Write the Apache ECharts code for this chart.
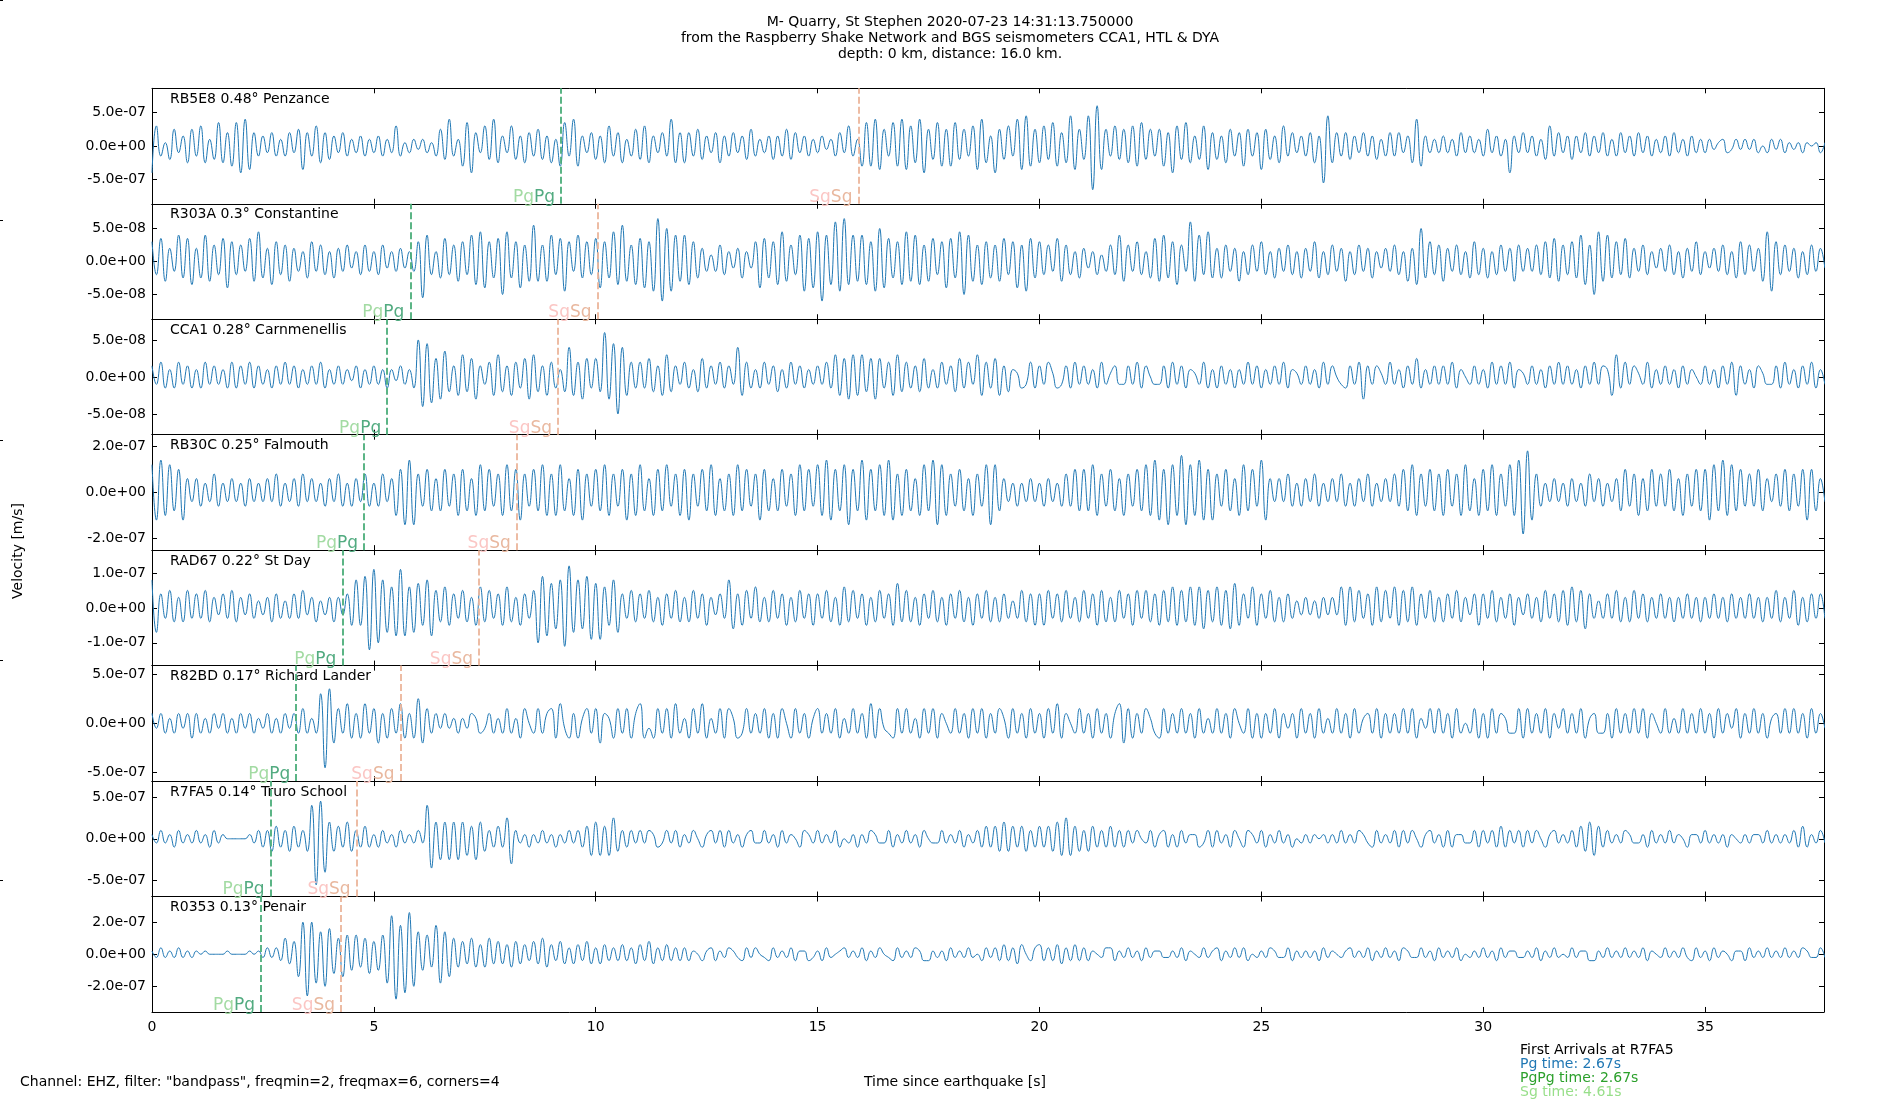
<!DOCTYPE html>
<html><head><meta charset="utf-8">
<script src="https://cdn.jsdelivr.net/npm/echarts@6/dist/echarts.min.js"></script>
<style>html,body{margin:0;padding:0;background:#fff}#c{width:1900px;height:1100px}</style>
</head><body><div id="c"></div>
<script>
// ---------------- data ----------------
const stations = ['RB5E8 0.48° Penzance','R303A 0.3° Constantine','CCA1 0.28° Carnmenellis','RB30C 0.25° Falmouth','RAD67 0.22° St Day','R82BD 0.17° Richard Lander','R7FA5 0.14° Truro School','R0353 0.13° Penair'];
const pgTimes = [9.22, 5.82, 5.30, 4.78, 4.29, 3.25, 2.67, 2.46];
const sgTimes = [15.92, 10.04, 9.15, 8.22, 7.37, 5.60, 4.61, 4.26];
const yTickSteps = [5e-7, 5e-8, 5e-8, 2e-7, 1e-7, 5e-7, 5e-7, 2e-7];
const yLimits = [8.6e-7, 8.75e-8, 7.8e-8, 2.5e-7, 1.65e-7, 5.85e-7, 6.9e-7, 3.6e-7];
const ampUnits = [5e-8, 5e-9, 5e-9, 2e-8, 1e-8, 5e-8, 5e-8, 2e-8]; // value of 1 in the wave arrays
const sampleStep = 0.1; // s
const xTicks = [0, 5, 10, 15, 20, 25, 30, 35];
const xMax = 37.68;
const firstArrivals = ['First Arrivals at R7FA5', 'Pg time: 2.67s', 'PgPg time: 2.67s', 'Sg time: 4.61s'];
const footerLeft = 'Channel: EHZ, filter: "bandpass", freqmin=2, freqmax=6, corners=4';
const xName = 'Time since earthquake [s]';
const yName = 'Velocity [m/s]';
const mainTitle = 'M- Quarry, St Stephen 2020-07-23 14:31:13.750000\nfrom the Raspberry Shake Network and BGS seismometers CCA1, HTL & DYA\ndepth: 0 km, distance: 16.0 km.';

const w_RB5E8 = [
-8,6,-3,1,-4,5,-2,3,-5,5, -3,6,-5,2,-4,7,-5,4,-6,7, -8,8,-7,4,-3,3,-2,4,-3,2, -3,4,-2,5,-7,4,-3,6,-5,4,
-4,3,-2,4,-3,2,-2,3,-3,2, -2,3,-3,2,-2,6,-3,1,-2,2, -1,2,-2,1,-3,5,-4,8,-3,2, -6,7,-8,4,-2,6,-4,8,-5,3,
-2,6,-4,3,-5,4,-3,5,-4,3, -5,2,-6,7,-3,8,-6,3,-2,4, -4,3,-5,6,-3,4,-5,2,-3,5, -4,6,-5,3,-2,4,-3,8,-5,4,
-5,4,-3,5,-4,3,-2,4,-5,3, -3,4,-2,3,-4,5,-3,2,-2,3, -4,3,-3,5,-4,4,-2,3,-3,2, -2,3,-1,2,-3,4,-2,6,-3,2,
-6,7,-6,8,-7,5,-3,7,-6,8, -7,6,-5,8,-8,5,-4,7,-6,5, -6,7,-4,5,-3,6,-7,8,-5,3, -8,5,-4,6,-3,8,-7,9,-6,5,
-5,6,-4,7,-6,4,-5,9,-7,5, -4,9,-13,12,-7,5,-3,6,-4,5, -5,6,-6,7,-4,5,-3,5,-6,4, -8,6,-4,7,-5,3,-4,6,-7,4,
-4,3,-5,5,-3,4,-6,5,-3,4, -7,5,-4,3,-5,6,-3,4,-2,3, -3,4,-5,3,-11,9,-5,4,-3,4, -4,3,-2,4,-3,3,-4,2,-3,4,
-3,4,-2,3,-5,8,-6,3,-2,2, -2,3,-2,2,-3,4,-2,3,-2,2, -3,5,-2,3,-3,2,-8,3,-2,4, -2,3,-3,2,-4,6,-3,4,-2,3,
-4,3,-2,4,-3,3,-2,4,-3,2, -3,4,-2,3,-3,4,-2,3,-3,2, -2,3,-3,4,-2,2,-3,3,-2,2, -2,2,-1,1,2,-2,-1,2,-1,2,
-1,2,-2,0,-2,2,-1,2,-2,1, -1,1,-2,1,0,1,-2,1];
const w_R303A = [
6,-4,7,-6,4,-3,8,-5,7,-7, 4,-5,8,-6,5,-4,7,-8,6,-4, 5,-3,7,-6,9,-5,4,-7,6,-4, 5,-6,4,-3,3,-5,6,-3,5,-4,
3,-5,4,-3,5,-2,3,-4,5,-3, 3,-4,5,-2,3,-3,4,-2,3,-3, 6,-11,8,-4,3,-5,7,-4,5,-6, 6,-4,8,-7,9,-8,6,-5,7,-10,
9,-5,6,-8,5,-6,11,-6,5,-6, 8,-4,7,-9,6,-3,8,-5,6,-4, 7,-8,6,-5,9,-7,11,-6,5,-7, 7,-8,6,-9,13,-12,10,-9,8,-6,
8,-7,6,-5,4,-3,2,-3,5,-4, 3,-2,4,-5,3,-2,6,-8,7,-5, 6,-7,9,-6,5,-4,8,-9,7,-8, 9,-12,8,-7,12,-9,13,-7,8,-6,
8,-7,6,-9,10,-8,7,-5,6,-7, 9,-6,8,-7,5,-6,7,-4,6,-8, 7,-5,9,-10,8,-6,5,-7,6,-5, 5,-6,7,-4,6,-8,5,-9,7,-5,
6,-4,5,-3,7,-6,5,-4,3,-5, 4,-2,3,-4,2,-3,5,-4,8,-6, 5,-3,6,-4,3,-5,7,-6,8,-5, 6,-7,5,-3,12,-6,8,-4,9,-5,
4,-5,5,-3,4,-6,3,-4,5,-3, 6,-4,3,-5,4,-3,5,-4,3,-5, 4,-3,6,-5,3,-4,5,-3,4,-6, 3,-4,5,-3,4,-5,3,-2,4,-3,
5,-4,3,-6,4,-7,10,-5,6,-4, 5,-6,4,-3,5,-4,3,-5,6,-4, 4,-5,3,-4,5,-3,4,-6,5,-3, 4,-3,5,-4,6,-5,7,-6,5,-4,
6,-5,8,-7,5,-10,9,-6,8,-5, 6,-4,7,-5,4,-3,5,-4,3,-2, 4,-3,5,-4,3,-5,4,-3,6,-4, 3,-2,4,-3,5,-4,3,-5,6,-4,
5,-3,4,-6,9,-9,6,-4,5,-3, 4,-5,3,-4,5,-3,4,-2];
const w_CCA1 = [
3,-2,4,-3,2,-3,4,-2,3,-3, 2,-3,4,-2,3,-2,2,-3,4,-3, 3,-2,4,-3,3,-2,2,-3,3,-2, 4,-2,3,-3,2,-2,3,-2,4,-3,
2,-2,3,-2,2,-1,3,-3,2,-2, 3,-2,2,-3,2,-1,3,-2,2,-3, 10,-8,9,-7,5,-6,7,-4,3,-5, 6,-4,5,-6,3,-2,4,-5,6,-4,
3,-5,4,-3,5,-6,6,-4,3,-5, 4,-3,2,-4,8,-5,4,-6,5,-3, 5,-4,12,-6,9,-10,8,-5,4,-3, 4,-3,5,-4,3,-5,6,-4,3,-2,
4,-3,2,-4,5,-3,3,-2,4,-3, 3,-2,8,-5,4,-3,2,-3,4,-2, 3,-4,2,-3,4,-2,3,-3,2,-2, 3,-2,4,-3,6,-5,5,-6,6,-5,
6,-4,5,-6,5,-3,4,-5,6,-4, 4,-3,3,-4,5,-3,2,-3,4,-2, 3,-4,5,-3,4,-2,6,-5,4,-3, 5,-5,3,-4,2,1,-3,-2,4,-3,
3,-2,4,1,-3,-2,3,-3,4,-2, 3,-2,2,-3,4,-2,1,3,-2,-2, 3,-2,4,-3,3,0,-2,-2,3,-3, 4,-2,3,-3,2,1,-2,4,-3,2,
-3,3,-2,2,-3,2,-2,4,-2,3, -3,2,-2,3,-2,4,-3,2,1,-2, 3,-2,2,-3,4,-2,3,0,-2,-3, 3,-2,4,-6,3,-2,3,1,-2,4,
-2,2,-3,3,-2,5,-3,2,-2,3, -2,3,-2,4,-3,2,0,-2,3,-2, 2,-3,4,-2,3,-2,4,-3,2,1, -2,3,-2,2,-3,3,-2,4,-2,3,
-2,2,-3,3,-2,4,-2,3,2,-5, 6,-3,4,-2,3,1,-2,4,-3,2, -2,3,-2,2,-3,3,-2,2,0,-2, 3,-2,2,-3,3,-2,4,-5,3,-2,
2,-3,3,1,-2,-2,3,-3,4,-2, 2,-3,3,-2,4,-3,2,-2];
const w_RB30C = [
6,-6,7,-5,6,-4,5,-6,3,-2, 3,-3,2,-2,4,-3,2,-2,3,-2, 2,-3,3,-2,2,-2,3,-2,4,-3, 2,-2,3,-3,4,-2,3,-2,2,-3,
3,-2,4,-3,2,-3,3,-2,4,-3, 2,-3,4,-2,3,-5,5,-7,7,-7, 4,-3,5,-4,3,-4,5,-3,4,-5, 5,-4,3,-5,6,-4,5,-3,4,-5,
6,-4,5,-6,4,-3,5,-4,6,-5, 4,-5,6,-4,3,-5,5,-6,4,-3, 5,-4,6,-5,4,-3,5,-6,4,-5, 6,-4,3,-5,5,-4,6,-3,4,-5,
5,-6,4,-3,5,-4,6,-5,3,-4, 4,-5,6,-4,5,-3,4,-6,5,-4, 3,-4,5,-3,4,-5,6,-4,5,-3, 6,-5,7,-6,5,-4,6,-7,5,-4,
7,-6,5,-4,6,-5,7,-6,4,-5, 5,-4,3,-5,6,-4,7,-7,6,-5, 4,-3,5,-4,3,-5,4,-3,6,-7, 6,-4,3,-2,2,-3,2,-2,3,-2,
2,-3,3,-2,2,-3,4,-3,5,-4, 5,-4,6,-5,4,-3,5,-4,3,-5, 4,-3,5,-4,6,-5,7,-6,5,-7, 6,-5,8,-7,6,-5,7,-6,5,-6,
4,-3,5,-4,3,-5,6,-4,5,-3, 7,-6,3,-2,3,-2,4,-3,2,-3, 3,-2,4,-3,2,-2,3,-2,4,-3, 2,-3,3,-2,4,-3,2,-2,3,-2,
4,-3,5,-4,6,-5,4,-3,5,-4, 4,-5,5,-3,4,-5,6,-4,3,-5, 5,-4,6,-5,4,-3,6,-5,7,-9, 9,-6,4,-3,2,-2,3,-2,2,-3,
3,-2,2,-3,4,-2,3,-3,2,-2, 3,-4,5,-3,4,-5,3,-4,5,-3, 4,-3,5,-4,3,-5,4,-3,5,-4, 5,-6,6,-4,7,-5,6,-4,5,-3,
4,-3,5,-4,3,-2,4,-3,5,-4, 4,-3,5,-6,5,-4,3,-2];
const w_RAD67 = [
8,-7,4,-3,5,-4,3,-4,5,-3, 4,-3,5,-4,3,-2,4,-3,5,-4, 3,-2,4,-3,2,-2,3,-4,4,-3, 2,-3,4,-3,5,-2,3,-4,2,-2,
3,-4,3,-2,4,-5,8,-5,9,-12, 11,-10,8,-7,6,-8,11,-8,6,-7, 7,-5,8,-8,5,-4,6,-5,4,-3, 5,-4,3,-5,6,-4,5,-3,4,-5,
6,-4,3,-5,4,-3,5,-10,9,-8, 7,-6,8,-11,12,-7,8,-6,9,-9, 7,-9,6,-5,8,-7,4,-3,5,-4, 4,-3,5,-4,3,-5,4,-3,5,-4,
3,-4,5,-3,4,-5,3,-2,4,-3, 8,-6,4,-5,5,-3,6,-4,3,-4, 5,-3,4,-5,3,-4,5,-3,4,-5, 4,-3,5,-4,3,-5,6,-4,5,-3,
4,-5,3,-4,5,-3,4,-5,7,-4, 5,-4,3,-5,4,-3,5,-4,3,-5, 4,-3,5,-4,3,-5,4,-3,5,-4, 3,-4,4,-3,2,-3,5,-4,4,-5,
4,-5,5,-3,4,-4,5,-3,3,-4, 5,-3,4,-5,5,-4,3,-4,5,-3, 4,-5,5,-3,5,-4,4,-5,5,-4, 6,-5,5,-4,6,-5,6,-6,5,-4,
6,-5,5,-6,7,-5,4,-3,6,-5, 4,-3,5,-4,3,-4,4,-3,2,-2, 3,-2,2,-3,3,-2,3,-2,6,-5, 6,-4,5,-3,4,-5,6,-4,5,-3,
6,-5,5,-4,6,-5,4,-3,5,-4, 3,-4,4,-3,5,-4,3,-2,4,-5, 4,-3,5,-4,3,-3,4,-5,3,-2, 4,-3,3,-4,5,-3,4,-4,5,-5,
6,-4,5,-6,4,-3,2,-3,4,-3, 5,-4,3,-4,5,-3,4,-4,3,-3, 4,-3,3,-4,3,-3,4,-3,3,-4, 3,-3,4,-3,3,-4,4,-3,3,-3,
4,-3,3,-4,3,-3,5,-4,3,-3, 5,-5,3,-4,4,-3,4,-3];
const w_R82BD = [
2,-1,2,-2,1,-2,2,-1,2,-3, 2,-2,1,-2,2,-1,2,-2,1,-2, 2,-1,2,-2,1,-1,2,-2,1,-2, 2,-1,2,-2,3,-2,1,-2,6,-9,
7,-4,3,-2,4,-3,2,-3,4,-2, 3,-4,2,-3,3,-2,4,-3,2,-3, 5,-4,3,-2,2,-1,2,-1,1,-2, 1,-1,2,1,-2,-1,2,-2,1,-2,
3,-2,1,-3,3,0,-2,3,-2,2, 3,-3,4,-1,-3,2,-3,1,3,-2, 3,-4,2,1,-3,3,-2,3,-3,2, 4,-3,-1,-3,3,-2,3,-3,4,-2,
1,-3,3,-2,4,-3,1,-2,3,-3, 3,1,-3,-2,3,-2,2,-2,3,-3, 2,-3,3,0,-3,3,-2,2,-3,1, 3,-2,2,-2,3,-3,1,-2,3,-2,
2,-3,4,-3,3,-1,-2,-3,3,-2, 3,-2,1,-3,3,-2,3,-3,2,0, -2,3,-2,2,-3,3,-2,3,-3,2, -2,3,1,-3,3,-2,2,-3,3,-2,
2,-3,3,-2,4,-3,2,0,-2,3, -2,2,-3,3,-2,2,-3,2,4,-4, 3,-3,2,-2,3,1,-2,-3,3,-2, 2,-2,3,-2,2,-3,3,-2,1,-2,
3,-2,2,-3,3,0,-2,3,-3,2, -3,2,-2,3,-3,2,-1,2,-3,3, -2,2,-3,3,-2,1,-2,3,-2,2, -3,3,-2,1,2,-2,3,-3,2,-2,
2,-2,3,-2,3,-3,1,-1,3,-2, 3,-2,2,-3,3,-2,0,-2,3,-3, 2,-3,3,-2,2,1,-2,-2,3,-3, 3,-2,2,-2,3,-3,2,-1,3,-2,
2,-2,3,-3,1,2,-2,-2,2,-3, 3,-2,2,-2,3,-2,3,-3,2,0, -2,3,-2,1,-2,3,-2,2,-2,3, -2,2,-3,3,-2,2,-1,3,-3,2,
-2,3,-2,2,-3,1,2,-2,3,-2, 3,-2,2,-3,3,-2,2,-1];
const w_R7FA5 = [
1,-1,2,-1,1,-2,2,-1,1,-1, 2,-1,1,-2,2,-1,1,0,0,0, 0,0,1,-1,2,-2,2,-3,3,-2, 2,-3,3,-2,2,-3,8,-11,9,-8,
4,-3,3,-2,4,-3,2,-2,3,-2, 1,-2,2,-1,1,-2,2,-1,1,-1, 2,-1,8,-7,4,-5,4,-5,4,-5, 4,-4,3,-5,4,-3,2,-2,3,-2,
5,-6,2,-1,1,-2,1,-1,2,-1, 1,-2,1,-1,2,-1,2,-2,3,-4, 4,-4,3,-4,5,-3,2,-2,2,-1, 2,-1,2,1,-2,-1,2,-1,2,-2,
1,-1,2,0,-2,1,2,-1,2,-2, 2,-1,1,-2,1,2,-1,-1,2,-1, 1,-2,2,-1,1,0,-2,2,1,-1, 2,-1,1,-1,2,-2,0,-1,1,-2,
1,-1,2,1,-1,-1,2,-2,1,-1, 2,-1,1,-2,2,0,-1,-1,2,-1, 1,-1,2,-2,1,-1,2,-2,3,-2, 3,-3,4,-3,3,-2,3,-3,2,-2,
3,-2,3,-3,4,-4,5,-4,3,-3, 2,-3,3,-2,2,-2,3,-2,2,-2, 2,-1,2,0,-1,2,-2,1,2,-2, 1,-2,2,-1,1,1,-2,-1,2,-2,
2,-1,1,-2,2,0,-2,2,1,-1, 2,-2,1,-1,2,-1,1,-2,0,-1, 1,-1,1,0,1,-1,1,-1,2,-1, 1,-1,2,1,-1,-2,2,-1,1,-1,
2,-2,2,-1,2,0,-2,1,2,-1, 1,-2,2,-2,1,1,-1,-1,2,-2, 2,-1,2,-2,3,-2,2,-1,2,-2, 2,-1,2,0,-2,1,2,-1,1,-1,
2,-2,3,-3,4,-4,3,-2,2,-1, 1,-1,2,1,-1,-1,1,-2,2,-1, 1,-1,2,-1,1,0,-2,1,1,-1, 2,-1,1,-1,1,-2,1,0,-1,1,
-1,1,1,-1,2,-1,1,-1,1,-1, 2,-2,3,-2,1,-1,2,-1];
const w_R0353 = [
1,-1,2,-1,1,-1,2,-1,1,-1, 1,0,1,0,0,0,0,1,0,0, 0,0,1,0,1,-1,2,-1,2,-2, 5,-3,4,-7,10,-13,10,-9,7,-10,
8,-6,5,-7,6,-5,6,-4,5,-6, 4,-5,6,-9,12,-14,9,-12,13,-10, 7,-5,6,-4,9,-9,7,-7,5,-4, 4,-3,5,-4,3,-4,5,-3,4,-3,
3,-4,4,-3,3,-2,4,-3,5,-4, 3,-2,4,-3,2,-3,3,-2,4,-3, 2,-3,3,-2,2,-2,3,-2,2,-3, 3,-2,4,-3,2,-2,3,-2,2,-2,
2,-2,1,0,-2,1,2,-2,1,-1, 2,1,-1,-2,2,-1,2,0,-1,-2, 2,-1,1,-1,2,-2,1,1,-2,-1, 1,-2,2,-1,0,1,2,-1,1,-1,
2,-2,1,-1,2,0,-1,-2,2,-1, 1,-1,2,1,-2,-2,1,-1,1,-2, 2,-1,1,-1,2,-1,0,-2,2,-1, 2,-2,3,-2,2,-3,3,0,-2,2,
3,-2,2,-2,3,-3,2,-2,3,-2, 2,-2,1,0,-1,2,2,-2,1,-1, 2,-1,1,-2,2,-1,1,1,-1,-1, 1,-1,2,-2,1,0,-1,2,-1,1,
2,-2,1,-1,2,-1,2,-2,0,-1, 1,-1,2,1,-1,-1,2,-2,1,-1, 1,-1,1,-2,2,-1,1,0,-1,1, 2,-1,1,-1,2,-2,1,-1,2,-1,
1,-2,2,1,-1,-1,2,-1,1,-2, 2,-1,1,-1,2,-2,0,-1,1,-1, 2,-1,1,-2,2,-1,1,1,-1,-1, 1,-1,2,-2,1,-1,2,-1,0,-1,
2,-1,1,1,-2,-2,1,-1,2,-1, 1,-1,2,-1,1,-1,2,-2,1,0, -1,2,-1,1,-1,2,-1,-2,2,-1, 1,-2,2,-1,1,0,-2,1,1,-2,
2,-1,1,-1,2,-1,1,-1,2,-1, 1,-1,2,1,-1,-1,2,-1];
const waves = [w_RB5E8, w_R303A, w_CCA1, w_RB30C, w_RAD67, w_R82BD, w_R7FA5, w_R0353];

// ---------------- layout / style ----------------
const FONT = 'DejaVu Sans';
const PLOT_LEFT = 152, PLOT_RIGHT = 1824, PLOT_TOP = 88.3, PANEL_H = 115.46;
const WAVE_COLOR = '#1f77b4';
const PG_LINE = '#4aad79', SG_LINE = '#ecb59b';

function sci(v) {
  if (Math.abs(v) < 1e-20) return '0.0e+00';
  const s = v.toExponential(1);
  const parts = s.split('e');
  const e = parseInt(parts[1], 10);
  const sign = e < 0 ? '-' : '+';
  const d = Math.abs(e);
  return parts[0] + 'e' + sign + (d < 10 ? '0' : '') + d;
}

const grids = [], xAxes = [], yAxes = [], series = [], graphics = [];
const tickLine = { color: '#000', width: 1 };
for (let i = 0; i < 8; i++) {
  const top = PLOT_TOP + i * PANEL_H;
  grids.push({ left: PLOT_LEFT, top: top, width: PLOT_RIGHT - PLOT_LEFT, height: PANEL_H });
  const yt = [-yTickSteps[i], 0, yTickSteps[i]];
  const baseX = {
    gridIndex: i, type: 'value', min: 0, max: xMax,
    axisLine: { show: true, onZero: false, lineStyle: tickLine },
    axisTick: { show: true, inside: true, length: 5, customValues: xTicks, lineStyle: tickLine },
    splitLine: { show: false }
  };
  xAxes.push(Object.assign({}, baseX, { position: 'bottom',
    axisLabel: { show: i === 7, customValues: xTicks, color: '#000', fontSize: 14, fontFamily: FONT, margin: 8 } }));
  xAxes.push(Object.assign({}, baseX, { position: 'top', axisLabel: { show: false } }));
  const baseY = {
    gridIndex: i, type: 'value', min: -yLimits[i], max: yLimits[i],
    axisLine: { show: true, onZero: false, lineStyle: tickLine },
    axisTick: { show: true, inside: true, length: 5, customValues: yt, lineStyle: tickLine },
    splitLine: { show: false }
  };
  yAxes.push(Object.assign({}, baseY, { position: 'left',
    axisLabel: { show: true, customValues: yt, formatter: sci, color: '#000', fontSize: 14, fontFamily: FONT, margin: 6 } }));
  yAxes.push(Object.assign({}, baseY, { position: 'right', axisLabel: { show: false } }));

  const unit = ampUnits[i];
  const data = waves[i].map((v, k) => [k * sampleStep, v * unit]);
  series.push({
    type: 'line', xAxisIndex: 2 * i, yAxisIndex: 2 * i, data: data,
    symbol: 'none', showSymbol: false, smooth: 0.5, clip: true, animation: false,
    lineStyle: { color: WAVE_COLOR, width: 1 },
    markLine: {
      silent: true, symbol: ['none', 'none'], animation: false, label: { show: false },
      data: [
        { xAxis: pgTimes[i], lineStyle: { color: PG_LINE, type: [7, 3], width: 1.8 } },
        { xAxis: sgTimes[i], lineStyle: { color: SG_LINE, type: [7, 3], width: 1.8 } }
      ]
    },
    markPoint: {
      silent: true, symbol: 'circle', symbolSize: 0, animation: false,
      label: {
        show: true, position: [-6, 2], align: 'right', verticalAlign: 'bottom',
        rich: {
          a: { color: '#a3dba3', fontSize: 17, fontFamily: FONT },
          b: { color: '#52ab80', fontSize: 17, fontFamily: FONT },
          c: { color: '#fbc6c4', fontSize: 17, fontFamily: FONT },
          d: { color: '#e9b89f', fontSize: 17, fontFamily: FONT }
        }
      },
      data: [
        { coord: [pgTimes[i], -yLimits[i]], label: { formatter: '{a|Pg}{b|Pg}' } },
        { coord: [sgTimes[i], -yLimits[i]], label: { formatter: '{c|Sg}{d|Sg}' } }
      ]
    }
  });
  graphics.push({ type: 'text', x: PLOT_LEFT + 18, y: top + 11,
    style: { text: stations[i], fill: '#000', font: '14px "' + FONT + '"', textVerticalAlign: 'middle' } });
}

// a full-figure helper axis (its small ticks show at the left edge)
grids.push({ left: 0, top: 0, width: 1900, height: 1100 });
xAxes.push({ gridIndex: 8, type: 'value', min: 0, max: 1, show: false });
yAxes.push({ gridIndex: 8, type: 'value', min: 0, max: 1, interval: 0.2,
  axisLine: { show: false }, axisLabel: { show: false }, splitLine: { show: false },
  axisTick: { show: true, inside: true, length: 3, lineStyle: { color: '#000', width: 1 } } });

graphics.push({ type: 'text', x: 18, y: 551, rotation: Math.PI / 2,
  style: { text: yName, fill: '#000', font: '14px "' + FONT + '"', textAlign: 'center', textVerticalAlign: 'middle' } });
graphics.push({ type: 'text', x: 955, y: 1082,
  style: { text: xName, fill: '#000', font: '14px "' + FONT + '"', textAlign: 'center', textVerticalAlign: 'middle' } });
graphics.push({ type: 'text', x: 20, y: 1082,
  style: { text: footerLeft, fill: '#000', font: '14px "' + FONT + '"', textAlign: 'left', textVerticalAlign: 'middle' } });
const faColors = ['#000000', '#1f77b4', '#2ca02c', '#98df8a'];
firstArrivals.forEach((t, k) => {
  graphics.push({ type: 'text', x: 1520, y: 1050 + k * 14,
    style: { text: t, fill: faColors[k], font: '14px "' + FONT + '"', textAlign: 'left', textVerticalAlign: 'middle' } });
});

const chart = echarts.init(document.getElementById('c'), null, { renderer: 'canvas', width: 1900, height: 1100 });
chart.setOption({
  backgroundColor: '#ffffff',
  animation: false,
  title: { text: mainTitle, left: 'center', top: 9,
    textStyle: { fontSize: 14, fontWeight: 'normal', color: '#000', fontFamily: FONT, lineHeight: 16 } },
  grid: grids, xAxis: xAxes, yAxis: yAxes, series: series, graphic: graphics
});
</script></body></html>
